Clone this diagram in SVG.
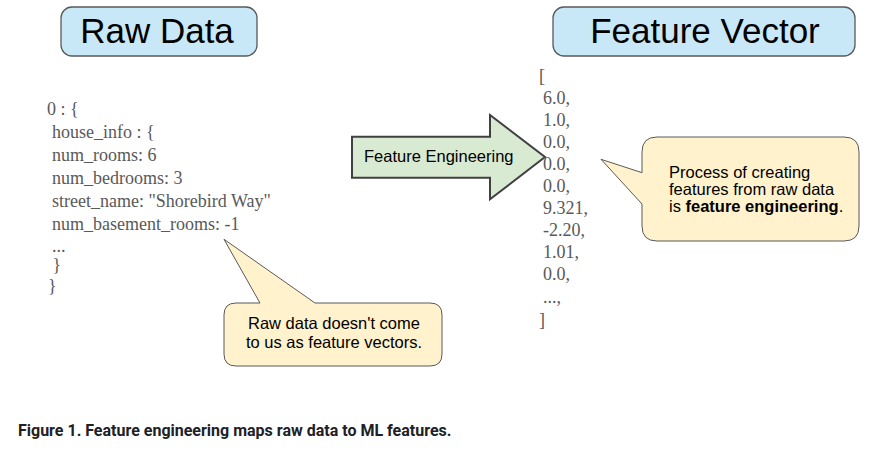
<svg xmlns="http://www.w3.org/2000/svg" width="871" height="453" viewBox="0 0 871 453">
<style>
.title{fill:#c9e8f7;stroke:#595959;stroke-width:1.3}
.tt{font-family:"Liberation Sans",Arial,sans-serif;font-size:35px;fill:#000;text-anchor:middle}
.code{font-family:"Liberation Serif","Times New Roman",serif;font-size:18px;fill:#595959}
.call{fill:#fff2cc;stroke:#595959;stroke-width:1}
.ct{font-family:"Liberation Sans",Arial,sans-serif;font-size:16.5px;fill:#000}
.arrow{fill:#d9ead3;stroke:#404040;stroke-width:2}
.cap{font-family:Roboto,"Liberation Sans",sans-serif;font-weight:bold;font-size:16px;fill:#202124}
</style>
<rect width="871" height="453" fill="#fff"/>
<g id="raw-data-title">
<rect class="title" x="61" y="7" width="196" height="49" rx="11"/>
<text class="tt" x="157" y="42.5">Raw Data</text>
</g>
<g id="feature-vector-title">
<rect class="title" x="553" y="7" width="302" height="49" rx="11"/>
<text class="tt" x="705" y="42.5">Feature Vector</text>
</g>
<g id="raw-data">
<text class="code" x="47" y="115">0 : {</text>
<text class="code" x="52" y="138">house_info : {</text>
<text class="code" x="52" y="161">num_rooms: 6</text>
<text class="code" x="52" y="184">num_bedrooms: 3</text>
<text class="code" x="52" y="207">street_name: "Shorebird Way"</text>
<text class="code" x="52" y="229.5">num_basement_rooms: -1</text>
<text class="code" x="52" y="251.5">...</text>
<text class="code" x="52.5" y="271">}</text>
<text class="code" x="48" y="292">}</text>
</g>
<g id="feature-vector">
<text class="code" x="539" y="81.5">[</text>
<text class="code" x="543" y="103.5">6.0,</text>
<text class="code" x="543" y="125.6">1.0,</text>
<text class="code" x="543" y="147.7">0.0,</text>
<text class="code" x="543" y="169.8">0.0,</text>
<text class="code" x="543" y="191.9">0.0,</text>
<text class="code" x="543" y="214">9.321,</text>
<text class="code" x="543" y="236.1">-2.20,</text>
<text class="code" x="543" y="258.2">1.01,</text>
<text class="code" x="543" y="280.3">0.0,</text>
<text class="code" x="543" y="302.5">...,</text>
<text class="code" x="539" y="326">]</text>
</g>
<g id="connectors">
<g id="feature-engineering-arrow">
<polygon class="arrow" points="352,136.7 490,136.7 490,115 545,157 490,199.3 490,177.7 352,177.7"/>
<text class="ct" x="364" y="162.3">Feature Engineering</text>
</g>
</g>
<g id="callout-feature-engineering">
<path class="call" d="M657,137 H844 Q859,137 859,152 V226 Q859,241 844,241 H657 Q642,241 642,226 V204 L601,159.3 L642,172.7 V152 Q642,137 657,137 Z"/>
<text class="ct" x="669" y="177.7">Process of creating</text>
<text class="ct" x="669" y="195">features from raw data</text>
<text class="ct" x="669" y="212.3">is <tspan font-weight="bold">feature engineering</tspan>.</text>
</g>
<g id="callout-raw-data">
<path class="call" d="M236,303 H260 L224,239.3 L315,303 H430 Q442,303 442,315 V354 Q442,366 430,366 H236 Q224,366 224,354 V315 Q224,303 236,303 Z"/>
<text class="ct" x="334" y="329.3" text-anchor="middle">Raw data doesn't come</text>
<text class="ct" x="334" y="348.3" text-anchor="middle">to us as feature vectors.</text>
</g>
<text class="cap" x="18" y="435.5">Figure 1. Feature engineering maps raw data to ML features.</text>
</svg>
